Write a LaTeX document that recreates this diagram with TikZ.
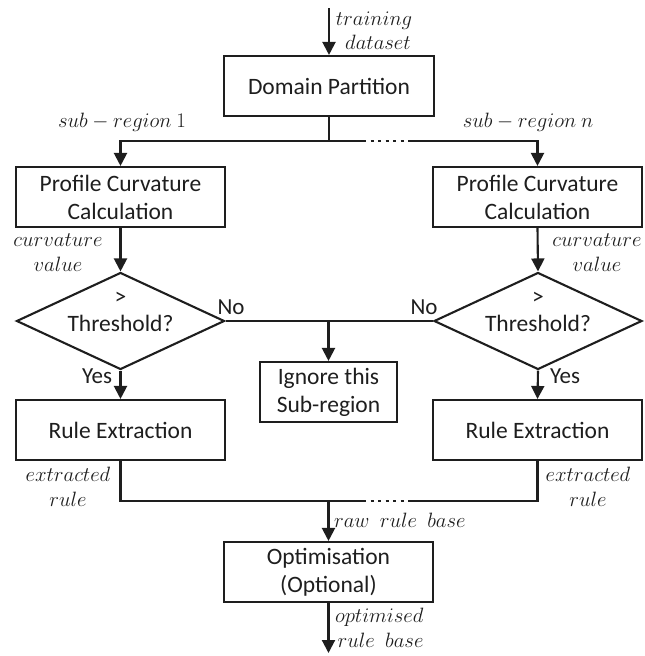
\documentclass[tikz,border=0pt]{standalone}
\usepackage{fontspec}
\setmainfont{Carlito}
\usetikzlibrary{shapes.geometric,arrows.meta}
\definecolor{ink}{HTML}{1E1E1E}
\newcommand{\wsp}{\mkern9mu}
\begin{document}
\begin{tikzpicture}[x=1pt,y=-1pt,line width=2.1pt,draw=ink,text=ink,
  box/.style={draw,rectangle,inner sep=0pt,align=center,minimum width=209pt,minimum height=60pt,font=\fontsize{23.5}{28}\selectfont},
  dec/.style={draw,diamond,inner sep=0pt,minimum width=208pt,minimum height=97pt},
  dtext/.style={inner sep=0pt,align=center,font=\fontsize{23.5}{27}\selectfont},
  lab/.style={inner sep=0pt,align=center,font=\fontsize{21.5}{25}\selectfont},
  yn/.style={inner sep=0pt,font=\fontsize{23}{24}\selectfont},
  arr/.style={-{Triangle[length=13pt,width=13pt]}},
  dots/.style={line width=2.8pt,dash pattern=on 3pt off 4.5pt}]
\useasboundingbox (0,0) rectangle (645,656);

% nodes
\node[box,minimum width=210pt] (dp) at (329,86) {Domain Partition};
\node[box] (pcL) at (120.5,197) {Profile Curvature\\Calculation};
\node[box] (pcR) at (537.5,197) {Profile Curvature\\Calculation};
\node[dec] (dL) at (120.5,321) {};
\node[dec] (dR) at (538,321) {};
\node[dtext] (tL) at (120.5,311.5) {>\\Threshold?};
\node[dtext] (tR) at (538,311.5) {>\\Threshold?};
\node[box,minimum width=137pt] (ign) at (328.5,392) {Ignore this\\Sub-region};
\node[box] (reL) at (120.5,430) {Rule Extraction};
\node[box] (reR) at (537.5,430) {Rule Extraction};
\node[box,minimum width=209pt] (opt) at (328.5,572) {Optimisation\\(Optional)};

% coordinates
\coordinate (in) at (329,8);
\coordinate (out) at (328.5,653);
\coordinate (s0) at (329,141);
\coordinate (a1) at (363,141);
\coordinate (a2) at (408,141);
\coordinate (m0) at (328.5,501);
\coordinate (b1) at (363,501);
\coordinate (b2) at (408,501);

% connectors
\draw[arr] (in) -- (dp.north);
\draw (dp.south) -- (s0);
\draw[arr] (s0) -| (pcL.north);
\draw (s0) -- (a1);
\draw[dots] (a1) -- (a2);
\draw[arr] (a2) -| (pcR.north);
\draw[arr] (pcL.south) -- (dL.north);
\draw[arr] (pcR.south) -- (dR.north);
\draw (dL.east) -- (dR.west);
\draw[arr] (ign.north |- dL.east) -- (ign.north);
\draw[arr] (dL.south) -- (reL.north);
\draw[arr] (dR.south) -- (reR.north);
\draw (reL.south) |- (m0);
\draw (m0) -- (b1);
\draw[dots] (b1) -- (b2);
\draw (b2) -| (reR.south);
\draw[arr] (m0) -- (opt.north);
\draw[arr] (opt.south) -- (out);

% labels
\node[lab] (l1) at (374,31) {$training$\\[-1pt]\hspace*{8pt}$dataset$};
\node[lab] (l2) at (122,122) {$sub-region\ 1$};
\node[lab] (l3) at (528,122) {$sub-region\ n$};
\node[lab] (l4) at (58,253) {$curvature$\\$value$};
\node[lab] (l5) at (597,253) {$curvature$\\$value$};
\node[yn] (n1) at (231,307) {No};
\node[yn] (n2) at (424,307) {No};
\node[yn] (y1) at (97,376) {Yes};
\node[yn] (y2) at (565,376) {Yes};
\node[lab] (l6) at (68,487) {$extracted$\\$rule$};
\node[lab] (l7) at (588,487) {$extracted$\\$rule$};
\node[lab,anchor=west] (l8) at (333,520) {$raw\wsp rule\wsp base$};
\node[lab,align=right,anchor=west] (l9) at (334,628) {$optimised$\\$rule\wsp base$};
\end{tikzpicture}
\end{document}
